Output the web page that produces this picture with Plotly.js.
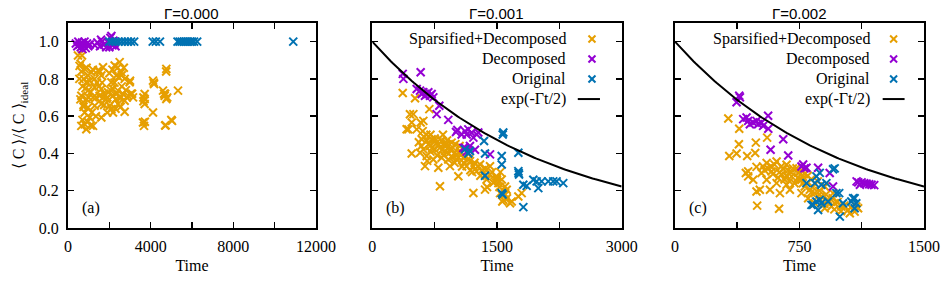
<!DOCTYPE html>
<html>
<head>
<meta charset="utf-8">
<script src="https://cdn.plot.ly/plotly-3.0.1.min.js"></script>
<style>
  html, body { margin: 0; padding: 0; background: #fff; }
  #chart { width: 948px; height: 297px; }
</style>
</head>
<body>
<div id="chart"></div>
<script>
// ---- data: [time, <C>/<C>_ideal] pairs for each method and noise rate ----
const seriesNames = ['Sparsified+Decomposed', 'Decomposed', 'Original'];
const seriesColors = ['#E69F00', '#9400D3', '#0072B2'];
const gammas = [0.000, 0.001, 0.002];
const panelLabels = ['(a)', '(b)', '(c)'];
const timeRanges = [12000, 3000, 1500];
const timeTickVals = [
  [0, 2000, 4000, 6000, 8000, 10000, 12000],
  [0, 750, 1500, 2250, 3000],
  [0, 375, 750, 1125, 1500]
];
const timeTickText = [
  ['0', ' ', '4000', ' ', '8000', ' ', '12000'],
  ['0', ' ', '1500', ' ', '3000'],
  ['0', ' ', '750', ' ', '1500']
];
const fidelityTicks = [0, 0.2, 0.4, 0.6, 0.8, 1.0];

// Gamma = 0.000
const a_sparsified = [
  [484,0.926],[613,0.881],[677,0.926],[560,0.87],[806,0.854],[968,0.818],[887,0.782],[1129,0.836],
  [1452,0.845],[1613,0.818],[1290,0.800],[1694,0.863],[1050,0.79],[760,0.80],[2258,0.872],[2500,0.890],
  [2400,0.86],[2581,0.836],[2742,0.800],[2984,0.782],[2339,0.818],[2097,0.782],[2178,0.746],[2420,0.737],
  [1936,0.728],[1613,0.746],[1290,0.755],[968,0.737],[645,0.710],[887,0.692],[1210,0.701],[1532,0.710],
  [1855,0.692],[2178,0.710],[2581,0.701],[2904,0.710],[3146,0.701],[3050,0.72],[2742,0.683],[2420,0.665],
  [2016,0.656],[1613,0.665],[1290,0.656],[968,0.647],[806,0.620],[1048,0.593],[806,0.557],[645,0.548],
  [1210,0.548],[887,0.530],[1613,0.593],[2178,0.620],[2742,0.624],[2097,0.638],[1750,0.72],[1400,0.78],
  [700,0.76],[2600,0.76],[2000,0.83],[3000,0.79],[3710,0.719],[3710,0.692],[3710,0.665],[3650,0.70],
  [3629,0.566],[3678,0.548],[4113,0.791],[4162,0.773],[4113,0.620],[4758,0.854],[4597,0.737],[4678,0.710],
  [4758,0.692],[4700,0.72],[5323,0.737],[4726,0.551],[5033,0.575],[1000,0.70],[1700,0.70],[2300,0.69],
  [1150,0.62],[900,0.86],[2550,0.65],[600,0.69],
  [550,0.80],[650,0.84],[750,0.66],[850,0.75],[950,0.78],[1100,0.73],[1200,0.85],[1350,0.70],[1500,0.76],
  [1550,0.84],[1650,0.78],[1750,0.66],[1900,0.70],[2050,0.74],[2150,0.85],[2250,0.78],[2350,0.72],[2450,0.81],
  [2500,0.70],[2650,0.72],[2800,0.74],[2850,0.70],[3100,0.72],[700,0.58],[950,0.57],[1100,0.55],[750,0.65],
  [1350,0.60],[1900,0.62],[2300,0.64],[2600,0.82],[2700,0.86],[3650,0.68],[3720,0.57],[4150,0.78],[4650,0.72],
  [4800,0.70],[4700,0.55],[5000,0.58],[4750,0.84]
];
const a_decomposed = [
  [380,0.99],[450,0.975],[500,1.0],[560,0.985],[620,0.97],[680,0.995],[740,0.98],[800,1.0],[860,0.965],
  [920,0.99],[980,0.975],[1050,0.985],[1300,0.98],[1420,0.995],[1550,0.975],[1650,1.0],[1750,0.985],
  [1850,0.97],[1950,0.995],[2050,1.02],[2100,1.03],[2150,0.98],[2200,1.005],[2250,0.99],[2000,0.97],
  [2300,0.975],[700,0.96],[1600,1.01]
];
const a_original = [
  [2000,1],[2150,1],[2300,1],[2450,1],[2600,1],[2750,1],[2900,1],[3050,1],[3200,1],[4100,1],[4250,1],
  [4450,1],[5300,1],[5400,1],[5500,1],[5600,1],[5700,1],[5800,1],[5900,1],[6000,1],[6100,1],[6250,1],
  [10900,1]
];

// Gamma = 0.001
const b_sparsified = [
  [366,0.724],[413,0.53],[453,0.61],[474,0.40],[434,0.529],[474,0.566],[494,0.611],[514,0.696],[534,0.529],
  [582,0.566],[606,0.520],[614,0.575],[686,0.638],[594,0.476],[654,0.467],[714,0.476],[774,0.458],[834,0.467],
  [894,0.449],[954,0.458],[694,0.440],[754,0.422],[814,0.431],[874,0.413],[934,0.422],[994,0.404],[1055,0.413],
  [614,0.422],[574,0.404],[654,0.386],[734,0.368],[834,0.377],[914,0.368],[1015,0.368],[1095,0.377],[1175,0.359],
  [1135,0.332],[1216,0.332],[1296,0.341],[1256,0.305],[1336,0.296],[1416,0.287],[1376,0.260],[1456,0.242],
  [1496,0.269],[634,0.332],[794,0.323],[934,0.332],[1035,0.278],[814,0.224],[1216,0.188],[1356,0.206],
  [1564,0.142],[1677,0.142],[1797,0.187],[1416,0.331],[1380,0.22],[1500,0.26],[1540,0.30],[1497,0.277],
  [1557,0.26],[1597,0.223],[1537,0.187],[1577,0.151],[1657,0.133],[1757,0.169],[1617,0.205],[1517,0.241],
  [700,0.50],[870,0.44],[1100,0.35],[1200,0.30],[1300,0.28],[960,0.38],[1150,0.40],[780,0.39],[1050,0.44],
  [650,0.50],[750,0.48],[850,0.50],[900,0.47],[1000,0.45],
  [560,0.46],[620,0.49],[680,0.45],[720,0.43],[760,0.47],[800,0.45],[840,0.42],[880,0.46],[920,0.40],[970,0.43],
  [1010,0.39],[1060,0.40],[1110,0.38],[1160,0.37],[1230,0.35],[1270,0.33],[1320,0.31],[1360,0.32],[1440,0.30],
  [1470,0.25],[1530,0.22],[1600,0.18],[1620,0.16],[700,0.41],[860,0.39],[990,0.35],[1080,0.33],[1180,0.31],
  [660,0.36],[590,0.44]
];
const b_decomposed = [
  [366,0.827],[374,0.80],[582,0.836],[534,0.746],[574,0.737],[614,0.728],[654,0.719],[694,0.710],[594,0.719],
  [674,0.728],[734,0.701],[634,0.710],[714,0.719],[806,0.656],[774,0.611],[914,0.580],[1007,0.515],[1023,0.526],
  [1115,0.520],[1155,0.529],[1195,0.511],[1256,0.502],[1135,0.502],[1216,0.485],[1075,0.502],[1275,0.512],
  [1095,0.43],[1135,0.41],[1175,0.44],[1235,0.42],[1416,0.395],[1115,0.431]
];
const b_original = [
  [1175,0.413],[1115,0.422],[1155,0.40],[1344,0.467],[1356,0.40],[1356,0.28],[1576,0.512],[1569,0.502],
  [1557,0.386],[1557,0.341],[1557,0.187],[1567,0.18],[1757,0.404],[1757,0.305],[1765,0.287],[1760,0.296],
  [1817,0.232],[1857,0.226],[1937,0.259],[1977,0.250],[1997,0.214],[2037,0.250],[2117,0.250],[2177,0.250],
  [2217,0.250],[2297,0.241],[1817,0.112]
];

// Gamma = 0.002
const c_sparsified = [
  [321,0.588],[387,0.533],[385,0.449],[327,0.386],[371,0.40],[435,0.386],[487,0.458],[483,0.402],[555,0.485],
  [491,0.196],[495,0.12],[627,0.103],[427,0.295],[441,0.304],[491,0.328],[552,0.349],[612,0.357],[672,0.339],
  [732,0.321],[521,0.295],[582,0.304],[642,0.286],[702,0.277],[762,0.259],[552,0.259],[612,0.241],[672,0.232],
  [511,0.205],[572,0.205],[632,0.187],[692,0.205],[471,0.259],[441,0.277],[652,0.317],[742,0.296],[752,0.259],
  [782,0.223],[812,0.205],[842,0.187],[882,0.169],[922,0.151],[962,0.133],[1002,0.115],[1042,0.097],[1082,0.088],
  [1092,0.115],[942,0.115],[902,0.106],[842,0.133],[802,0.160],[762,0.187],[902,0.223],[952,0.187],[1053,0.079],
  [1103,0.106],[580,0.33],[700,0.30],[620,0.27],[540,0.31],[800,0.28],[860,0.25],[720,0.24],[660,0.26],
  [530,0.33],[560,0.32],[600,0.34],[640,0.33],[680,0.31],[710,0.32],[750,0.30],[780,0.29],[820,0.26],[590,0.29],
  [630,0.30],[670,0.28],[740,0.27],[690,0.25],[770,0.24],[830,0.22],[870,0.20],[910,0.18],[950,0.16],[980,0.14],
  [1020,0.12],[1060,0.11],[860,0.17],[820,0.19],[900,0.13],[960,0.10],[1000,0.09]
];
const c_decomposed = [
  [391,0.701],[371,0.675],[387,0.71],[411,0.584],[441,0.575],[471,0.566],[501,0.557],[531,0.548],[562,0.533],
  [451,0.557],[491,0.575],[521,0.566],[431,0.593],[561,0.602],[652,0.476],[576,0.42],[682,0.389],[772,0.341],
  [792,0.323],[762,0.33],[780,0.32],[862,0.323],[932,0.295],[952,0.223],[1094,0.250],[1124,0.245],[1154,0.238],
  [1184,0.232],[1114,0.232],[1140,0.24],[1170,0.235],[1200,0.23],[1104,0.245]
];
const c_original = [
  [792,0.241],[852,0.277],[872,0.296],[952,0.315],[962,0.32],[842,0.241],[882,0.232],[912,0.241],[972,0.187],
  [989,0.187],[822,0.124],[852,0.142],[882,0.133],[922,0.142],[862,0.097],[993,0.061],[1082,0.160],[1062,0.142],
  [1092,0.133],[1082,0.106],[1012,0.133],[872,0.151],[832,0.124],[1073,0.16]
];

const panels = [
  [a_sparsified, a_decomposed, a_original],
  [b_sparsified, b_decomposed, b_original],
  [c_sparsified, c_decomposed, c_original]
];

// ---- layout geometry ----
const W = 948, H = 297;
const M = { l: 68, r: 24, t: 23, b: 69 };
const plotW = W - M.l - M.r;
const plotH = H - M.t - M.b;
const xDomains = [[0, 0.2897], [0.3555, 0.6468], [0.7091, 1.0]];
const serif = 'Liberation Serif, Times New Roman, serif';
const sans = 'Liberation Sans, Arial, sans-serif';

const traces = [];
const layout = {
  width: W, height: H,
  margin: M,
  paper_bgcolor: '#fff', plot_bgcolor: '#fff',
  showlegend: false,
  annotations: [], shapes: []
};

panels.forEach((series, p) => {
  const sfx = p === 0 ? '' : String(p + 1);
  const xa = 'x' + sfx, ya = 'y' + sfx;

  series.forEach((pts, s) => {
    traces.push({
      type: 'scatter', mode: 'markers',
      x: pts.map(d => d[0]), y: pts.map(d => d[1]),
      xaxis: xa, yaxis: ya, name: seriesNames[s],
      marker: { symbol: 'x-thin', size: 8, color: seriesColors[s],
                line: { color: seriesColors[s], width: 2 } },
      hoverinfo: 'skip'
    });
  });

  const g = gammas[p];
  if (g > 0) {
    // reference decay exp(-Γt/2)
    const n = 120, tMax = timeRanges[p];
    const t = [], v = [];
    for (let i = 0; i <= n; i++) { const ti = tMax * i / n; t.push(ti); v.push(Math.exp(-g * ti / 2)); }
    traces.push({ type: 'scatter', mode: 'lines', x: t, y: v, xaxis: xa, yaxis: ya,
                  line: { color: '#000', width: 2 }, hoverinfo: 'skip', name: 'exp(-Γt/2)' });
  }

  const common = {
    showline: true, linecolor: '#000', linewidth: 2, mirror: 'ticks',
    ticks: 'inside', ticklen: 6, tickwidth: 1.5, tickcolor: '#000',
    showgrid: false, zeroline: false,
    tickfont: { family: serif, size: 16, color: '#000' }
  };
  layout['xaxis' + sfx] = Object.assign({}, common, {
    domain: xDomains[p], anchor: ya, range: [0, timeRanges[p]],
    tickmode: 'array', tickvals: timeTickVals[p], ticktext: timeTickText[p],
    ticklabelstandoff: 3,
    title: { text: 'Time', font: { family: serif, size: 16, color: '#000' }, standoff: 6 }
  });
  const yax = Object.assign({}, common, {
    domain: [0, 1], anchor: xa, range: [0, 1.1],
    tickmode: 'array', tickvals: fidelityTicks, tickformat: '.1f',
    showticklabels: p === 0, ticklabelstandoff: 4
  });
  if (p === 0) {
    yax.title = { text: '⟨ C ⟩/⟨ C ⟩<sub>ideal</sub>', font: { family: serif, size: 16, color: '#000' }, standoff: 10 };
  }
  layout['yaxis' + sfx] = yax;

  // panel title
  layout.annotations.push({
    xref: xa + ' domain', yref: ya + ' domain', x: 0.5, y: 1, yanchor: 'bottom', yshift: -1,
    text: 'Γ=' + g.toFixed(3), showarrow: false, font: { family: sans, size: 15, color: '#000' }
  });
  // panel letter
  layout.annotations.push({
    xref: xa + ' domain', yref: ya + ' domain', x: 0.093, y: 0.098, xanchor: 'center', yanchor: 'middle',
    text: panelLabels[p], showarrow: false, font: { family: serif, size: 16, color: '#000' }
  });

  // in-plot key: label then sample, for panels with the reference curve
  if (g > 0) {
    const domW = plotW * (xDomains[p][1] - xDomains[p][0]);
    const textX = p === 1 ? 0.785 : 0.790;
    const symX = p === 1 ? 0.881 : 0.878;
    const lineX = p === 1 ? [0.824, 0.913] : [0.834, 0.922];
    const rows = [0.922, 0.824, 0.727, 0.629];
    const labels = seriesNames.concat(['exp(-Γt/2)']);
    const dx = 3.5 / domW, dy = 3.5 / plotH;
    labels.forEach((lab, r) => {
      layout.annotations.push({
        xref: xa + ' domain', yref: ya + ' domain', x: textX, y: rows[r],
        xanchor: 'right', yanchor: 'middle', text: lab, showarrow: false,
        font: { family: serif, size: 16, color: '#000' }
      });
      if (r < 3) {
        const col = seriesColors[r];
        layout.shapes.push({ type: 'line', xref: xa + ' domain', yref: ya + ' domain',
          x0: symX - dx, x1: symX + dx, y0: rows[r] - dy, y1: rows[r] + dy, line: { color: col, width: 2 } });
        layout.shapes.push({ type: 'line', xref: xa + ' domain', yref: ya + ' domain',
          x0: symX - dx, x1: symX + dx, y0: rows[r] + dy, y1: rows[r] - dy, line: { color: col, width: 2 } });
      } else {
        layout.shapes.push({ type: 'line', xref: xa + ' domain', yref: ya + ' domain',
          x0: lineX[0], x1: lineX[1], y0: rows[r], y1: rows[r], line: { color: '#000', width: 2 } });
      }
    });
  }
});

Plotly.newPlot('chart', traces, layout, { staticPlot: true, displayModeBar: false });
</script>
</body>
</html>
